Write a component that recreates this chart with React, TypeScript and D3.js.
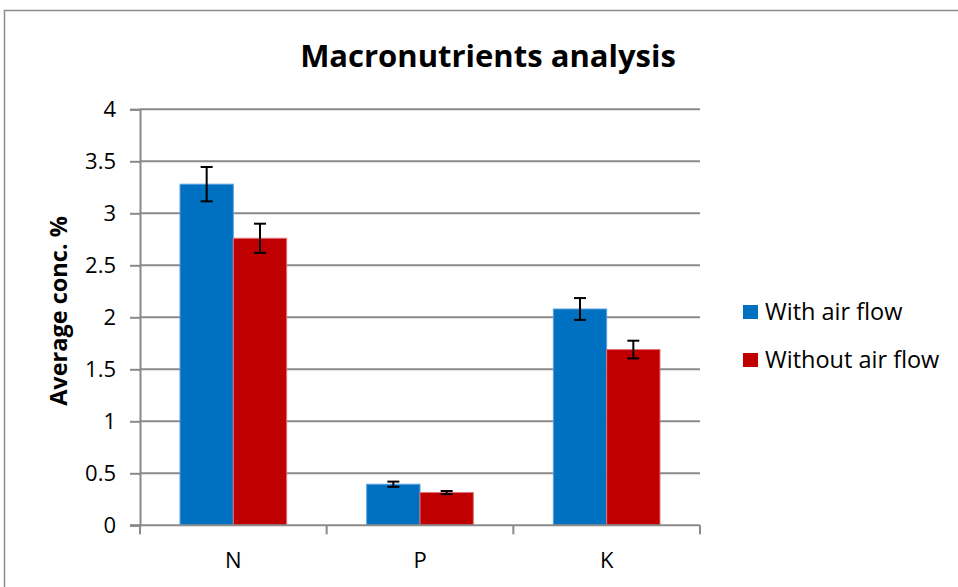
import React, { useEffect, useRef } from "react";
import * as d3 from "d3";

const categories = ["N", "P", "K"];
const seriesNames = ["With air flow", "Without air flow"];
const withAirFlow = [3.28, 0.395, 2.08];
const withoutAirFlow = [2.76, 0.315, 1.69];
const withAirFlowErr = [0.165, 0.025, 0.105];
const withoutAirFlowErr = [0.14, 0.015, 0.085];
const yTicks = [0, 0.5, 1, 1.5, 2, 2.5, 3, 3.5, 4];
const colors = ["#0070C0", "#C00000"];
const edgeColors = ["#5aa2de", "#e0707a"];

const App = () => {
  const ref = useRef<SVGSVGElement>(null);

  useEffect(() => {
    drawChart();
  }, []);

  const drawChart = () => {
    const svg = d3.select(ref.current);
    svg.selectAll("*").remove();

    const font = "'Open Sans', sans-serif";
    const left = 140;
    const right = 700;

    const x = d3
      .scaleBand()
      .domain(categories)
      .range([left, right])
      .paddingInner(0.4286)
      .paddingOuter(0.2143);
    const x1 = d3.scaleBand().domain(seriesNames).range([0, x.bandwidth()]);
    const y = d3.scaleLinear().domain([0, 4]).range([525.3, 109.3]);

    // chart border
    svg
      .append("rect")
      .attr("x", 4.5)
      .attr("y", 10.5)
      .attr("width", 1000)
      .attr("height", 1000)
      .attr("fill", "white")
      .attr("stroke", "#8c8c8c")
      .attr("stroke-width", 1.5);

    // gridlines
    svg
      .append("g")
      .selectAll("line")
      .data(yTicks.slice(1))
      .enter()
      .append("line")
      .attr("x1", left)
      .attr("x2", right)
      .attr("y1", (d) => y(d))
      .attr("y2", (d) => y(d))
      .attr("stroke", "#8a8a8a")
      .attr("stroke-width", 2);

    // y axis
    const yAxis = svg
      .append("g")
      .attr("transform", `translate(${left},0)`)
      .call(
        d3
          .axisLeft(y)
          .tickValues(yTicks)
          .tickSize(10)
          .tickPadding(14)
          .tickFormat((d) => String(d))
      );
    yAxis.select(".domain").attr("stroke", "#8a8a8a").attr("stroke-width", 2);
    yAxis.selectAll(".tick line").attr("stroke", "#8a8a8a").attr("stroke-width", 2);
    yAxis
      .selectAll(".tick text")
      .attr("font-family", font)
      .attr("font-size", 22)
      .attr("fill", "#000");

    // bars
    const series = [withAirFlow, withoutAirFlow];
    const errs = [withAirFlowErr, withoutAirFlowErr];
    series.forEach((vals, si) => {
      const g = svg.append("g");
      g.selectAll("rect")
        .data(vals)
        .enter()
        .append("rect")
        .attr("x", (d, i) => x(categories[i])! + x1(seriesNames[si])!)
        .attr("y", (d) => y(d))
        .attr("width", x1.bandwidth())
        .attr("height", (d) => y(0) - y(d))
        .attr("fill", colors[si])
        .attr("stroke", edgeColors[si])
        .attr("stroke-width", 1);
    });

    // x axis
    const xAxisG = svg.append("g");
    xAxisG
      .append("line")
      .attr("x1", left - 10)
      .attr("x2", right)
      .attr("y1", y(0))
      .attr("y2", y(0))
      .attr("stroke", "#8a8a8a")
      .attr("stroke-width", 2);
    const bounds = [left, ...categories.map((c) => x(c)! + x.bandwidth() + (x.step() - x.bandwidth()) / 2)];
    xAxisG
      .selectAll("line.tk")
      .data(bounds)
      .enter()
      .append("line")
      .attr("class", "tk")
      .attr("x1", (d) => d)
      .attr("x2", (d) => d)
      .attr("y1", y(0))
      .attr("y2", y(0) + 9)
      .attr("stroke", "#8a8a8a")
      .attr("stroke-width", 2);
    xAxisG
      .selectAll("text")
      .data(categories)
      .enter()
      .append("text")
      .attr("x", (d) => x(d)! + x.bandwidth() / 2)
      .attr("y", 568)
      .attr("text-anchor", "middle")
      .attr("font-family", font)
      .attr("font-size", 22)
      .text((d) => d);

    // error bars
    series.forEach((vals, si) => {
      const g = svg.append("g").attr("stroke", "#000").attr("stroke-width", 2);
      vals.forEach((v, i) => {
        const cx = x(categories[i])! + x1(seriesNames[si])! + x1.bandwidth() / 2;
        const lo = y(v - errs[si][i]);
        const hi = y(v + errs[si][i]);
        g.append("line").attr("x1", cx).attr("x2", cx).attr("y1", lo).attr("y2", hi);
        g.append("line").attr("x1", cx - 6).attr("x2", cx + 6).attr("y1", lo).attr("y2", lo);
        g.append("line").attr("x1", cx - 6).attr("x2", cx + 6).attr("y1", hi).attr("y2", hi);
      });
    });

    // title
    svg
      .append("text")
      .attr("x", 488)
      .attr("y", 67)
      .attr("text-anchor", "middle")
      .attr("font-family", font)
      .attr("font-weight", "bold")
      .attr("font-size", 31)
      .text("Macronutrients analysis");

    // y label
    svg
      .append("text")
      .attr("transform", "translate(67,311) rotate(-90)")
      .attr("text-anchor", "middle")
      .attr("font-family", font)
      .attr("font-weight", "bold")
      .attr("font-size", 23.5)
      .text("Average conc. %");

    // legend
    const legend = svg
      .append("g")
      .selectAll("g")
      .data(seriesNames)
      .enter()
      .append("g")
      .attr("transform", (d, i) => `translate(743,${305 + i * 48})`);
    legend
      .append("rect")
      .attr("width", 15)
      .attr("height", 14)
      .attr("fill", (d, i) => colors[i]);
    legend
      .append("text")
      .attr("x", 22)
      .attr("y", 15)
      .attr("font-family", font)
      .attr("font-size", 23.5)
      .text((d) => d);
  };

  return (
    <div>
      <svg
        ref={ref}
        width="958"
        height="587"
        style={{ display: "block", position: "absolute", left: 0, top: 0 }}
      ></svg>
    </div>
  );
};

export default App;
